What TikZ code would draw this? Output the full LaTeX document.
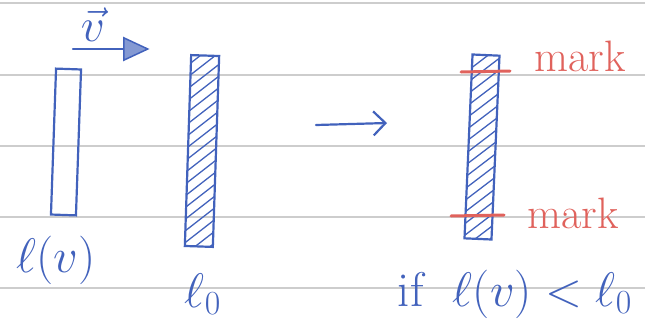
\documentclass[tikz,border=0pt]{standalone}
\usepackage{graphicx}
\usetikzlibrary{arrows.meta,shapes.geometric}
\definecolor{pen}{RGB}{66,98,188}
\definecolor{redpen}{RGB}{224,98,92}
\definecolor{ruled}{RGB}{205,205,205}
\newcommand{\biglab}[1]{\scalebox{1.95}{\fontsize{25}{30}\selectfont #1}}
\tikzset{
  ruleline/.style={ruled, line width=1.3pt},
  bar/.style={draw=pen, line width=2.2pt, minimum width=#1, inner sep=0pt, outer sep=0pt},
  hatched/.style={path picture={
      \foreach \k in {-20,...,20}
        \draw[pen, line width=1.3pt]
          ([shift={(-5pt,\k*12pt)}]path picture bounding box.south west) -- ++(60pt,50pt);}},
  marker/.style={redpen, line width=3pt, line cap=round},
  penlabel/.style={text=pen, inner sep=0pt},
  redlabel/.style={text=redpen, inner sep=0pt, font=\fontsize{44}{46}\selectfont},
  penarrow/.style={pen, line width=2.2pt, line cap=round}
}
\begin{document}
\begin{tikzpicture}[x=1pt,y=-1pt]
\useasboundingbox (0,0) rectangle (645,324);
% ruled paper
\foreach \yy in {3,75,146,217,288}
  \draw[ruleline] (0,\yy) -- (645,\yy);
% bars
\node[bar=25pt, minimum height=146pt, rotate=-2.0] (lv) at (66,142) {};
\node[bar=28pt, minimum height=191pt, rotate=-1.9, hatched] (l0) at (202,151) {};
\node[bar=27pt, minimum height=184pt, rotate=-2.5, hatched] (lm) at (482,147) {};
% velocity arrow
\coordinate (va) at (73,49);
\coordinate (vb) at (123,49);
\draw[penarrow] (va) -- (vb);
\node[draw=pen, fill=pen!65, line width=1.5pt, isosceles triangle, isosceles triangle apex angle=50,
      minimum height=24pt, inner sep=0pt, anchor=west] (vtip) at (vb) {};
\node[penlabel] (vlab) at (93,25) {\scalebox{1.9}{\fontsize{25}{30}\selectfont $\vec{v}$}};
% transition arrow
\coordinate (ta) at (316,125);
\coordinate (tb) at (387,123);
\draw[penarrow, -{Straight Barb[length=12pt,width=24pt,line width=2.2pt]}] (ta) -- (tb);
% red marks
\coordinate (m1a) at (461,72);
\coordinate (m1b) at (510,71);
\coordinate (m2a) at (451,216);
\coordinate (m2b) at (504,215);
\draw[marker] (m1a) -- (m1b);
\draw[marker] (m2a) -- (m2b);
\node[redlabel] (mk1) at (580,56) {mark};
\node[redlabel] (mk2) at (573,213) {mark};
% labels
\node[penlabel] (tlv) at (56,260) {\biglab{$\ell(v)$}};
\node[penlabel] (tl0) at (203,294) {\biglab{$\ell_0$}};
\node[penlabel] (tif) at (515,294) {\biglab{if\ \ $\ell(v)<\ell_0$}};
\end{tikzpicture}
\end{document}
